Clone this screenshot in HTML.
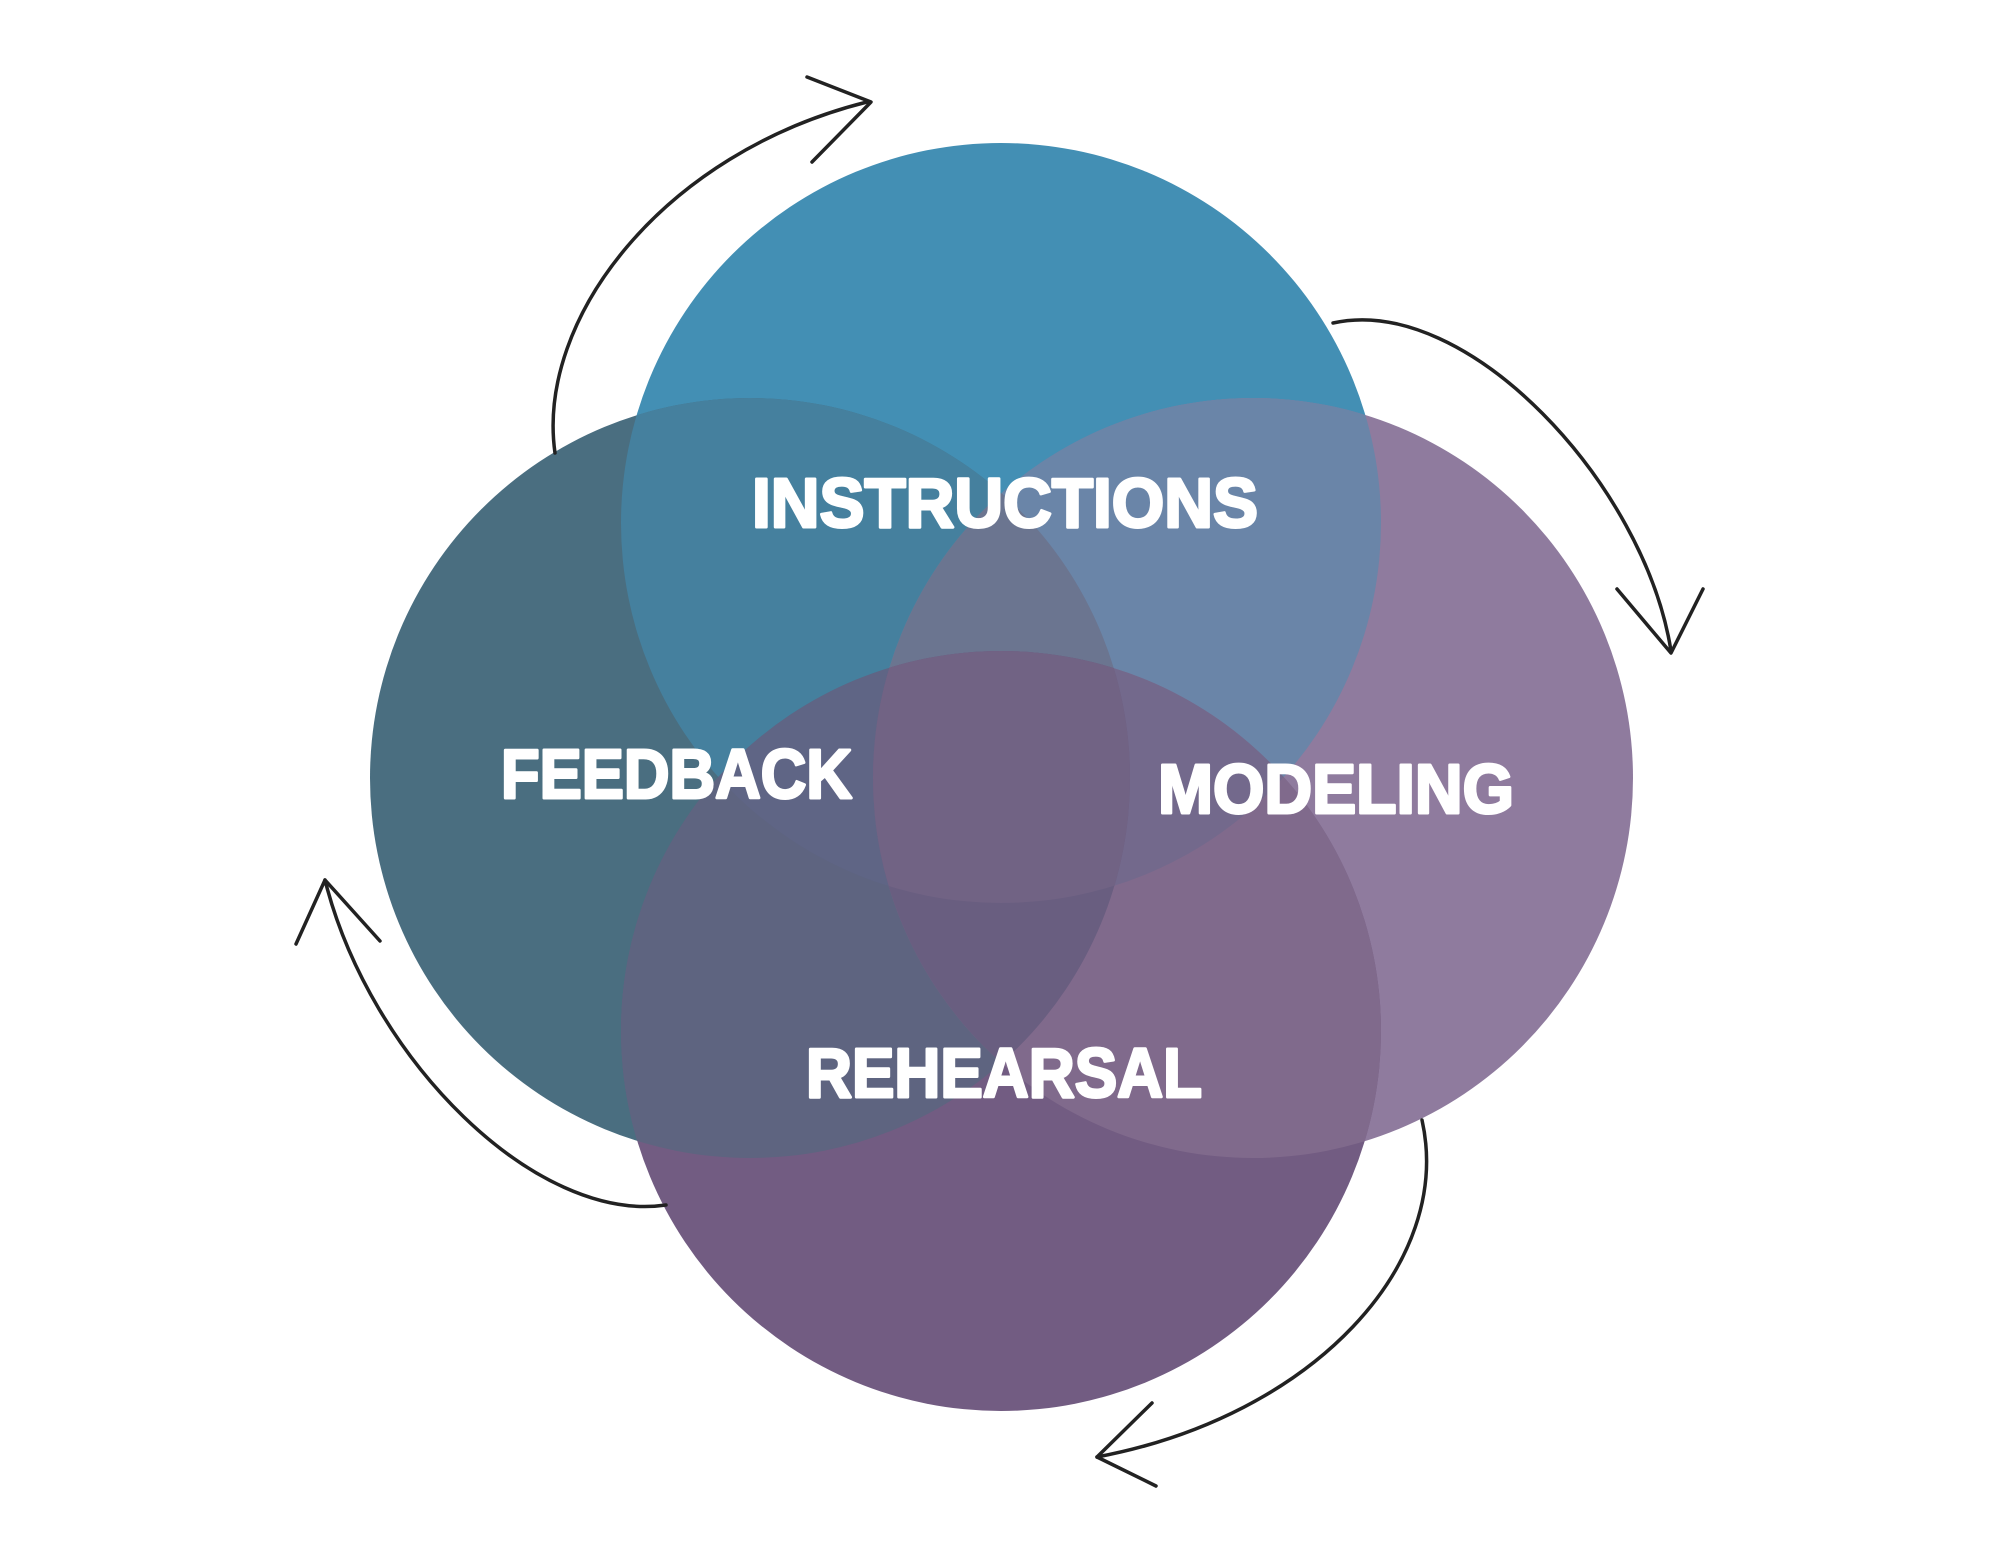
<!DOCTYPE html>
<html><head><meta charset="utf-8"><style>html,body{margin:0;padding:0;background:#fff}svg{display:block}</style></head>
<body>
<svg width="2000" height="1545" viewBox="0 0 2000 1545" xmlns="http://www.w3.org/2000/svg">
<defs>
<clipPath id="cT"><circle cx="1001" cy="523" r="380"/></clipPath>
<clipPath id="cL"><circle cx="750" cy="778" r="380"/></clipPath>
<clipPath id="cR"><circle cx="1253" cy="778" r="380"/></clipPath>
<clipPath id="cB"><circle cx="1001" cy="1031" r="380"/></clipPath>
</defs>
<rect width="2000" height="1545" fill="#fff"/>
<circle cx="1001" cy="523" r="380" fill="#438fb4"/>
<circle cx="750" cy="778" r="380" fill="#4a6e80"/>
<circle cx="1253" cy="778" r="380" fill="#8f7b9e"/>
<circle cx="1001" cy="1031" r="380" fill="#725c82"/>
<g clip-path="url(#cT)"><rect width="2000" height="1545" fill="#45809e" clip-path="url(#cL)"/></g>
<g clip-path="url(#cT)"><rect width="2000" height="1545" fill="#6a85a8" clip-path="url(#cR)"/></g>
<g clip-path="url(#cB)"><rect width="2000" height="1545" fill="#5e6480" clip-path="url(#cL)"/></g>
<g clip-path="url(#cB)"><rect width="2000" height="1545" fill="#806a8c" clip-path="url(#cR)"/></g>
<g clip-path="url(#cT)"><g clip-path="url(#cL)"><rect width="2000" height="1545" fill="#6b7590" clip-path="url(#cR)"/></g></g>
<g clip-path="url(#cT)"><g clip-path="url(#cL)"><rect width="2000" height="1545" fill="#5f6585" clip-path="url(#cB)"/></g></g>
<g clip-path="url(#cT)"><g clip-path="url(#cR)"><rect width="2000" height="1545" fill="#73698c" clip-path="url(#cB)"/></g></g>
<g clip-path="url(#cB)"><g clip-path="url(#cL)"><rect width="2000" height="1545" fill="#695e80" clip-path="url(#cR)"/></g></g>
<g clip-path="url(#cT)"><g clip-path="url(#cL)"><g clip-path="url(#cR)"><rect width="2000" height="1545" fill="#716384" clip-path="url(#cB)"/></g></g></g>

<g font-family="'Liberation Sans', sans-serif" font-weight="bold" font-size="70" fill="#fff" stroke="#fff" stroke-width="3" stroke-linejoin="round">
<text x="752" y="527" textLength="506" lengthAdjust="spacingAndGlyphs">INSTRUCTIONS</text>
<text x="501" y="798" textLength="351" lengthAdjust="spacingAndGlyphs">FEEDBACK</text>
<text x="1158" y="813" textLength="356" lengthAdjust="spacingAndGlyphs">MODELING</text>
<text x="806" y="1097" textLength="396" lengthAdjust="spacingAndGlyphs">REHEARSAL</text>
</g>

<g fill="none" stroke="#222" stroke-width="3.5" stroke-linecap="round" stroke-linejoin="round">
<path d="M555,453 C536,319 663,153 867,102"/>
<path d="M807,77 L871,102 L812,162"/>
<path d="M1333,323 C1467,293 1645,485 1671,651"/>
<path d="M1617,589 L1671,653 L1703,589"/>
<path d="M1422,1120 C1454,1263 1314,1416 1097,1457"/>
<path d="M1152,1403 L1097,1457 L1156,1486"/>
<path d="M666,1205 C536,1224 370,1059 325,880"/>
<path d="M296,944 L325,880 L380,941"/>
</g>
</svg>
</body></html>
